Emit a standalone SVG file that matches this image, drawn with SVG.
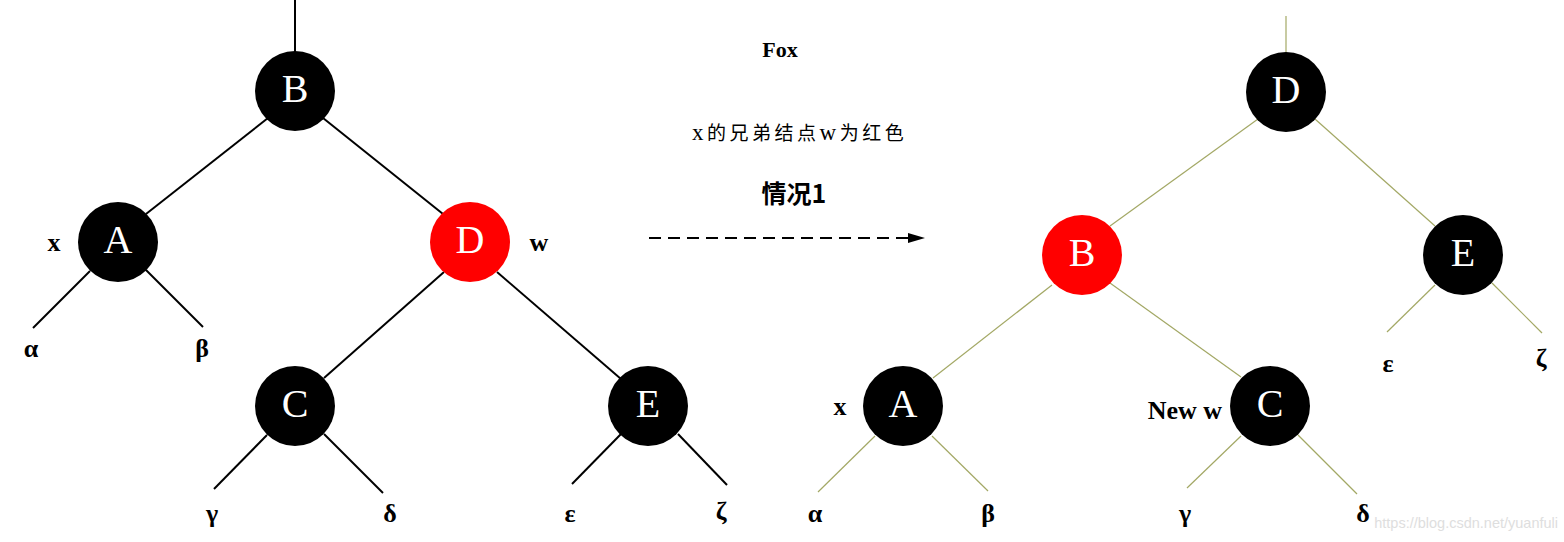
<svg xmlns="http://www.w3.org/2000/svg" width="1564" height="542" viewBox="0 0 1564 542">
<style>
.bl{stroke:#000;stroke-width:2;fill:none}
.ol{stroke:#a3a865;stroke-width:1.2;fill:none}
.nb{fill:#000}
.nr{fill:#ff0000}
.nt{font-family:"Liberation Serif",serif;font-size:40px;fill:#fff;text-anchor:middle}
.lb{font-family:"Liberation Serif",serif;font-size:26px;font-weight:bold;fill:#000;text-anchor:middle}
.le{font-family:"Liberation Serif",serif;font-size:26px;font-weight:bold;fill:#000;text-anchor:end}
.gk{font-family:"Liberation Serif",serif;font-size:26px;font-weight:bold;fill:#000;text-anchor:middle}
.lt{font-size:23px}
</style>
<defs>
<marker id="ah" markerWidth="17" markerHeight="10" refX="0" refY="5" orient="auto" markerUnits="userSpaceOnUse">
<polygon points="0,0 17,5 0,10" fill="#000"/>
</marker>
</defs>
<rect width="1564" height="542" fill="#fff"/>
<g id="connectors">
<line class="bl" x1="295" y1="0" x2="295" y2="52"/>
<line class="bl" x1="268" y1="118" x2="146" y2="214"/>
<line class="bl" x1="323" y1="118" x2="443" y2="214"/>
<line class="bl" x1="90" y1="271" x2="33" y2="328"/>
<line class="bl" x1="146" y1="270" x2="203" y2="327"/>
<line class="bl" x1="444" y1="272" x2="324" y2="378"/>
<line class="bl" x1="497" y1="272" x2="621" y2="379"/>
<line class="bl" x1="267" y1="435" x2="214" y2="489"/>
<line class="bl" x1="324" y1="434" x2="383" y2="493"/>
<line class="bl" x1="621" y1="434" x2="572" y2="484"/>
<line class="bl" x1="678" y1="434" x2="727" y2="485"/>
<line x1="649" y1="238" x2="908" y2="238" stroke="#000" stroke-width="2" stroke-dasharray="12 7" marker-end="url(#ah)"/>
<line class="ol" x1="1286" y1="16" x2="1286" y2="52"/>
<line class="ol" x1="1258" y1="119" x2="1110" y2="226"/>
<line class="ol" x1="1315" y1="119" x2="1435" y2="226"/>
<line class="ol" x1="1052" y1="285" x2="933" y2="378"/>
<line class="ol" x1="1110" y1="283" x2="1241" y2="377"/>
<line class="ol" x1="875" y1="436" x2="818" y2="492"/>
<line class="ol" x1="932" y1="436" x2="988" y2="491"/>
<line class="ol" x1="1241" y1="436" x2="1187" y2="488"/>
<line class="ol" x1="1298" y1="435" x2="1357" y2="494"/>
<line class="ol" x1="1435" y1="285" x2="1387" y2="332"/>
<line class="ol" x1="1492" y1="283" x2="1542" y2="333"/>
</g>
<g id="L-B"><circle class="nb" cx="295" cy="91" r="40"/><text class="nt" x="295" y="102">B</text></g>
<g id="L-A"><circle class="nb" cx="118" cy="242" r="40"/><text class="nt" x="118" y="253">A</text></g>
<g id="L-D"><circle class="nr" cx="470" cy="242" r="40"/><text class="nt" x="470" y="253">D</text></g>
<g id="L-C"><circle class="nb" cx="295" cy="406" r="40"/><text class="nt" x="295" y="417">C</text></g>
<g id="L-E"><circle class="nb" cx="648" cy="406" r="40"/><text class="nt" x="648" y="417">E</text></g>
<g id="L-labels">
<text class="lb" x="54" y="251">x</text>
<text class="lb" x="539" y="251">w</text>
<text class="gk" x="31" y="357">α</text>
<text class="gk" x="202" y="357">β</text>
<text class="gk" x="212" y="522">γ</text>
<text class="gk" x="390" y="522">δ</text>
<text class="gk" x="570" y="522">ε</text>
<text class="gk" x="721" y="520">ζ</text>
</g>
<g id="title">
<text x="780" y="57" font-family="'Liberation Serif',serif" font-size="22" font-weight="bold" text-anchor="middle">Fox</text>
<text x="692" y="140" font-family="'Liberation Serif','Noto Sans CJK SC',serif" font-size="19" letter-spacing="3.5"><tspan class="lt">x</tspan>的兄弟结点<tspan class="lt">w</tspan>为红色</text>
<text x="794" y="203" font-family="'Noto Sans CJK SC',sans-serif" font-size="25" font-weight="bold" text-anchor="middle">情况1</text>
</g>
<g id="R-D"><circle class="nb" cx="1286" cy="92" r="40"/><text class="nt" x="1286" y="103">D</text></g>
<g id="R-B"><circle class="nr" cx="1082" cy="255" r="40"/><text class="nt" x="1082" y="266">B</text></g>
<g id="R-E"><circle class="nb" cx="1463" cy="255" r="40"/><text class="nt" x="1463" y="266">E</text></g>
<g id="R-A"><circle class="nb" cx="903" cy="406" r="40"/><text class="nt" x="903" y="417">A</text></g>
<g id="R-C"><circle class="nb" cx="1270" cy="406" r="40"/><text class="nt" x="1270" y="417">C</text></g>
<g id="R-labels">
<text class="lb" x="840" y="415">x</text>
<text class="le" x="1222" y="419">New w</text>
<text class="gk" x="815" y="522">α</text>
<text class="gk" x="988" y="522">β</text>
<text class="gk" x="1185" y="522">γ</text>
<text class="gk" x="1363" y="522">δ</text>
<text class="gk" x="1388" y="372">ε</text>
<text class="gk" x="1541" y="367">ζ</text>
</g>
<text x="1558" y="528" font-family="'Liberation Sans',sans-serif" font-size="14.5" fill="#dedede" text-anchor="end">https://blog.csdn.net/yuanfuli</text>
</svg>
